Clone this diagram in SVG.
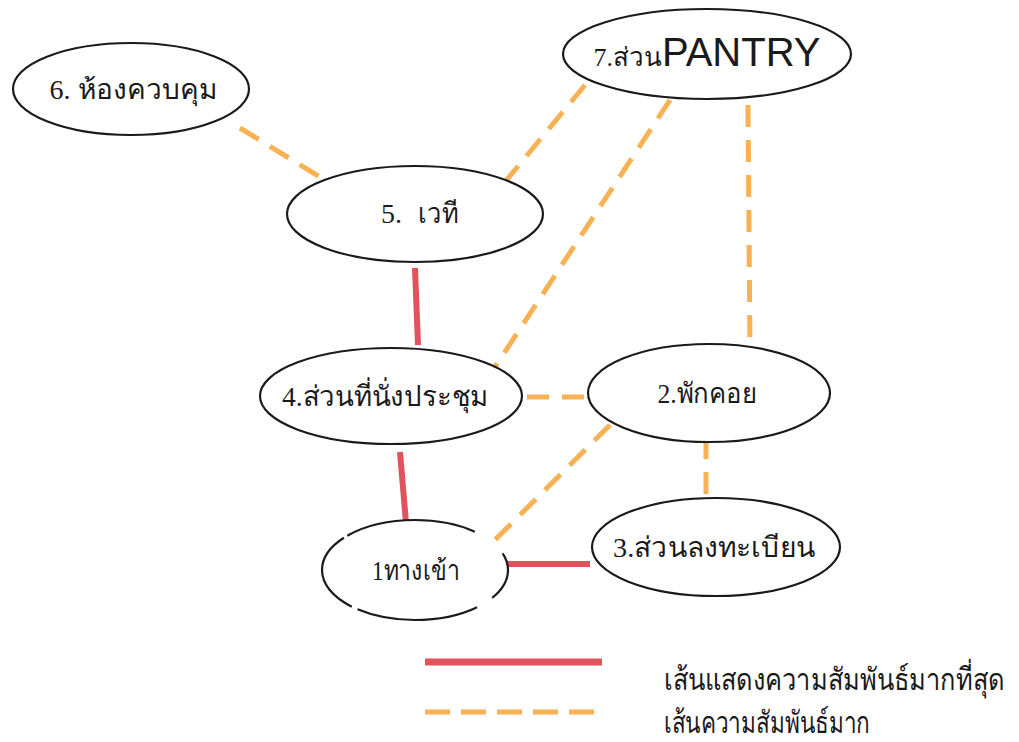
<svg xmlns="http://www.w3.org/2000/svg" width="1019" height="742" viewBox="0 0 1019 742">
  <style>
    .node ellipse { fill: #ffffff; stroke: #1a1a1a; stroke-width: 2.2; }
    .lbl { font-family: "Liberation Serif", "Noto Sans", serif; font-size: 28px; fill: #1a1a1a; text-anchor: middle; }
    .legend-lbl { font-family: "Liberation Serif", "Noto Sans", serif; font-size: 26px; fill: #1a1a1a; }
    .strong { stroke: #e0525c; stroke-width: 6; fill: none; }
    .weak { stroke: #f8b254; stroke-width: 5; fill: none; stroke-dasharray: 22 13; }
  </style>
  <rect width="1019" height="742" fill="#ffffff"/>

  <g id="connectors">
    <line class="weak" x1="240" y1="128" x2="325" y2="180"/>
    <line class="weak" x1="585" y1="85" x2="505" y2="182"/>
    <line class="weak" x1="670" y1="100" x2="493" y2="370"/>
    <line class="weak" x1="748" y1="105" x2="750" y2="352"/>
    <line class="weak" x1="527" y1="397" x2="588" y2="397"/>
    <line class="weak" x1="610" y1="425" x2="487" y2="548"/>
    <line class="weak" x1="706" y1="437" x2="706" y2="495"/>
    <line class="strong" x1="415" y1="268" x2="418" y2="345"/>
    <line class="strong" x1="400" y1="452" x2="406" y2="523"/>
    <line class="strong" x1="498" y1="564" x2="590" y2="564"/>
  </g>

  <g id="node6" class="node">
    <ellipse cx="131" cy="89" rx="118" ry="46"/>
    <text class="lbl" x="133" y="99">6. ห้องควบคุม</text>
  </g>
  <g id="node7" class="node">
    <ellipse cx="707" cy="54" rx="144" ry="45"/>
    <text class="lbl" x="707" y="66"><tspan style="font-size:26px">7.ส่วน</tspan><tspan style="font-family:'Liberation Sans',sans-serif;font-size:40px">PANTRY</tspan></text>
  </g>
  <g id="node5" class="node">
    <ellipse cx="415" cy="214" rx="128" ry="48"/>
    <text class="lbl" y="223" style="text-anchor:start"><tspan x="381">5.</tspan><tspan x="418" textLength="40" lengthAdjust="spacingAndGlyphs">เวที</tspan></text>
  </g>
  <g id="node4" class="node">
    <ellipse cx="391" cy="396" rx="131" ry="48"/>
    <text class="lbl" x="385" y="406" textLength="206" lengthAdjust="spacingAndGlyphs">4.ส่วนที่นั่งประชุม</text>
  </g>
  <g id="node2" class="node">
    <ellipse cx="709" cy="393" rx="121" ry="49"/>
    <text class="lbl" x="707" y="403" textLength="99" lengthAdjust="spacingAndGlyphs">2.พักคอย</text>
  </g>
  <g id="node1" class="node">
    <!-- outline drawn with small breaks along the ring -->
    <ellipse cx="415" cy="570" rx="93" ry="50" pathLength="360" stroke-dasharray="26 14 96 5 71 3 103 28 14 0"/>
    <text class="lbl" x="416" y="580" textLength="88" lengthAdjust="spacingAndGlyphs">1ทางเข้า</text>
  </g>
  <g id="node3" class="node">
    <ellipse cx="716" cy="547" rx="124" ry="49"/>
    <text class="lbl" x="714" y="557" textLength="202" lengthAdjust="spacingAndGlyphs">3.ส่วนลงทะเบียน</text>
  </g>

  <g id="legend">
    <line class="strong" x1="425" y1="662" x2="602" y2="662" style="stroke-width:7"/>
    <line class="weak" x1="425" y1="712" x2="602" y2="712" style="stroke-dasharray:25 11"/>
    <text class="legend-lbl" transform="translate(664,690) scale(1,1.18)" x="0" y="0" textLength="340" lengthAdjust="spacingAndGlyphs">เส้นแสดงความสัมพันธ์มากที่สุด</text>
    <text class="legend-lbl" transform="translate(664,733) scale(1,1.18)" x="0" y="0" textLength="206" lengthAdjust="spacingAndGlyphs">เส้นความสัมพันธ์มาก</text>
  </g>
</svg>
